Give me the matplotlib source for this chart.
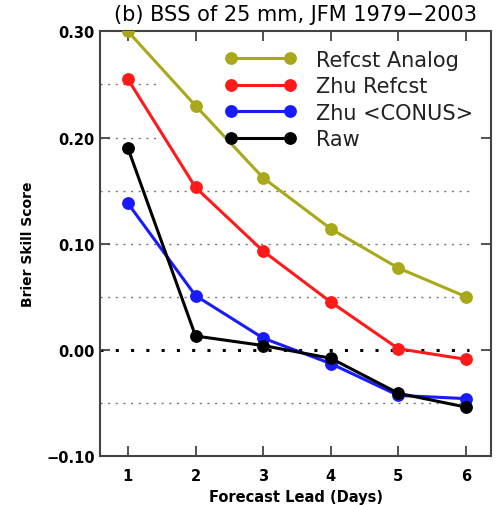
import matplotlib
matplotlib.use("Agg")
import matplotlib.pyplot as plt
from matplotlib.lines import Line2D

days = [1, 2, 3, 4, 5, 6]
refcst_analog = [0.300, 0.230, 0.162, 0.114, 0.077, 0.050]
zhu_refcst = [0.255, 0.153, 0.093, 0.045, 0.001, -0.009]
zhu_conus = [0.138, 0.051, 0.011, -0.013, -0.043, -0.046]
raw = [0.190, 0.013, 0.004, -0.008, -0.041, -0.054]

series = [
    ("Refcst Analog", refcst_analog, "#a8a81a"),
    ("Zhu Refcst", zhu_refcst, "#ff1a1a"),
    ("Zhu <CONUS>", zhu_conus, "#1a1aff"),
    ("Raw", raw, "#000000"),
]

yticks = [-0.10, 0.00, 0.10, 0.20, 0.30]
ytick_labels = ["\u22120.10", "0.00", "0.10", "0.20", "0.30"]

plt.rcParams["font.family"] = ["DejaVu Sans"]

fig = plt.figure(figsize=(4.97, 5.06), dpi=100)
ax = fig.add_axes([0.202, 0.097, 0.786, 0.839])
ax.set_xlim(0.593, 6.37)
ax.set_ylim(-0.10, 0.30)

# reference lines
grid_kw = dict(colors="#777777", linestyles=(0, (1.5, 4)), linewidth=1.0, zorder=1)
for yv in [0.15, 0.10, 0.05, -0.05]:
    ax.hlines(yv, 0.593, 6.1, **grid_kw)
for yv in [0.25, 0.20]:
    ax.hlines(yv, 0.593, 1.48, **grid_kw)
ax.hlines(0.0, 0.593, 6.05, colors="black", linestyles=(0, (1, 4)),
          linewidth=2.2, zorder=1)

handles = []
for name, vals, col in series:
    ax.plot(days, vals, color=col, lw=2.2, marker="o", ms=8.2, zorder=3)
    handles.append(Line2D([0], [0], color=col, lw=2.2, marker="o", ms=8.2))

leg = ax.legend(handles, [s[0] for s in series], loc="upper left",
                bbox_to_anchor=(0.318, 0.957), borderaxespad=0, borderpad=0,
                frameon=False, numpoints=2,
                handlelength=3.45, handletextpad=0.95, labelspacing=0.31,
                fontsize=15)
for t in leg.get_texts():
    t.set_color("#222222")

ax.set_xticks(days)
ax.set_xticklabels([str(d) for d in days], fontsize=10.5, fontweight="bold")
ax.set_yticks(yticks)
ax.set_yticklabels(ytick_labels, fontsize=10.5, fontweight="bold")
ax.tick_params(direction="in", length=7, width=1.3, top=True, right=True,
               color="#444444")
ax.tick_params(axis="y", pad=4)
ax.tick_params(axis="x", pad=9)
for sp in ax.spines.values():
    sp.set_linewidth(1.5)
    sp.set_color("#444444")

ax.set_xlabel("Forecast Lead (Days)", fontsize=10.5, fontweight="bold", labelpad=4)
ax.set_ylabel("Brier Skill Score", fontsize=10, fontweight="bold")
ax.yaxis.set_label_coords(-0.167, 0.5)
ax.set_title("(b) BSS of 25 mm, JFM 1979\u22122003", fontsize=15, pad=8)

fig.savefig("out.png", dpi=100)
